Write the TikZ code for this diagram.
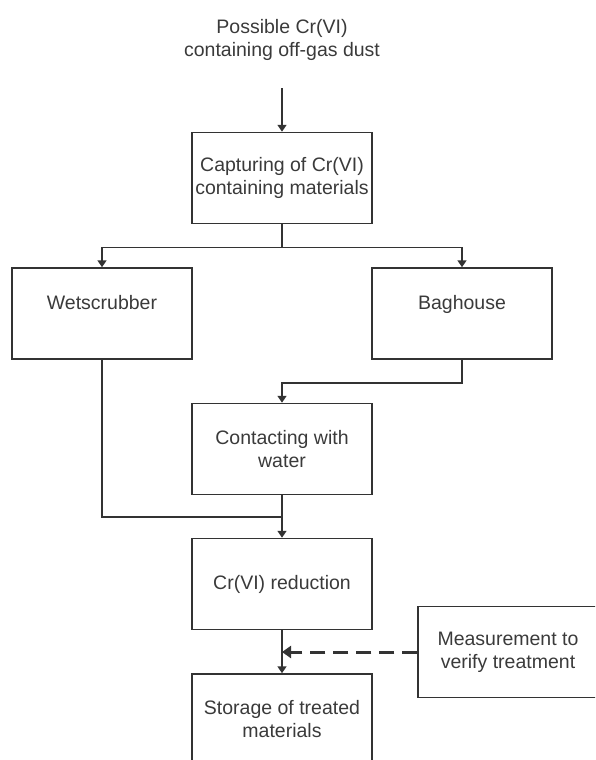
\documentclass[tikz,border=0pt]{standalone}
\usepackage{fontspec}
\setmainfont{Liberation Sans}
\usetikzlibrary{arrows.meta}
\definecolor{flowline}{HTML}{333333}
\definecolor{flowtext}{HTML}{3A3A3A}

\begin{document}
\begin{tikzpicture}[x=1pt,y=-1pt,
    box/.style={rectangle, draw=flowline, line width=1.5pt, minimum width=180pt,
      minimum height=91pt, align=center, text=flowtext, inner sep=2pt,
      font=\fontsize{19.5}{23}\selectfont},
    flow/.style={draw=flowline, line width=1.5pt},
    flowarrow/.style={flow, -{Triangle[width=9pt,length=7pt]}},
    checkarrow/.style={draw=flowline, line width=3pt, dash pattern=on 15pt off 8pt,
      -{Triangle[width=12pt,length=9pt]}}]
    \useasboundingbox (0,0) rectangle (595,760);
    \clip (0,0) rectangle (595,760);

    % Source
    \node[align=center, text=flowtext, font=\fontsize{19.5}{23}\selectfont] (dust) at (282,39.5)
        {Possible Cr(VI)\\containing off-gas dust};
    \coordinate (dustend) at (282,88);

    % Capture
    \node[box] (capture) at (282,178) {Capturing of Cr(VI)\\containing materials};
    \node[box] (wet) at (102,313.5) {Wetscrubber\\~};
    \node[box] (bag) at (462,313.5) {Baghouse\\~};
    \node[box] (contact) at (282,449) {Contacting with\\water};

    % Treatment
    \node[box] (reduce) at (282,584) {Cr(VI) reduction};
    \node[box] (store) at (282,719.5) {Storage of treated\\materials};
    \node[box] (measure) at (508,652) {Measurement to\\verify treatment};

    \coordinate (merge) at (282,517);
    \coordinate (check) at (282,652);

    \draw[flowarrow] (dustend) -- (capture.north);
    \draw[flowarrow] (capture.south) -- ++(0,23) -| (wet.north);
    \draw[flowarrow] (capture.south) -- ++(0,23) -| (bag.north);
    \draw[flowarrow] (bag.south) -- ++(0,23) -| (contact.north);
    \draw[flow] (wet.south) |- (merge);
    \draw[flowarrow] (contact.south) -- (reduce.north);
    \draw[flowarrow] (reduce.south) -- (store.north);
    \draw[checkarrow] (measure.west) -- (check);
\end{tikzpicture}
\end{document}
